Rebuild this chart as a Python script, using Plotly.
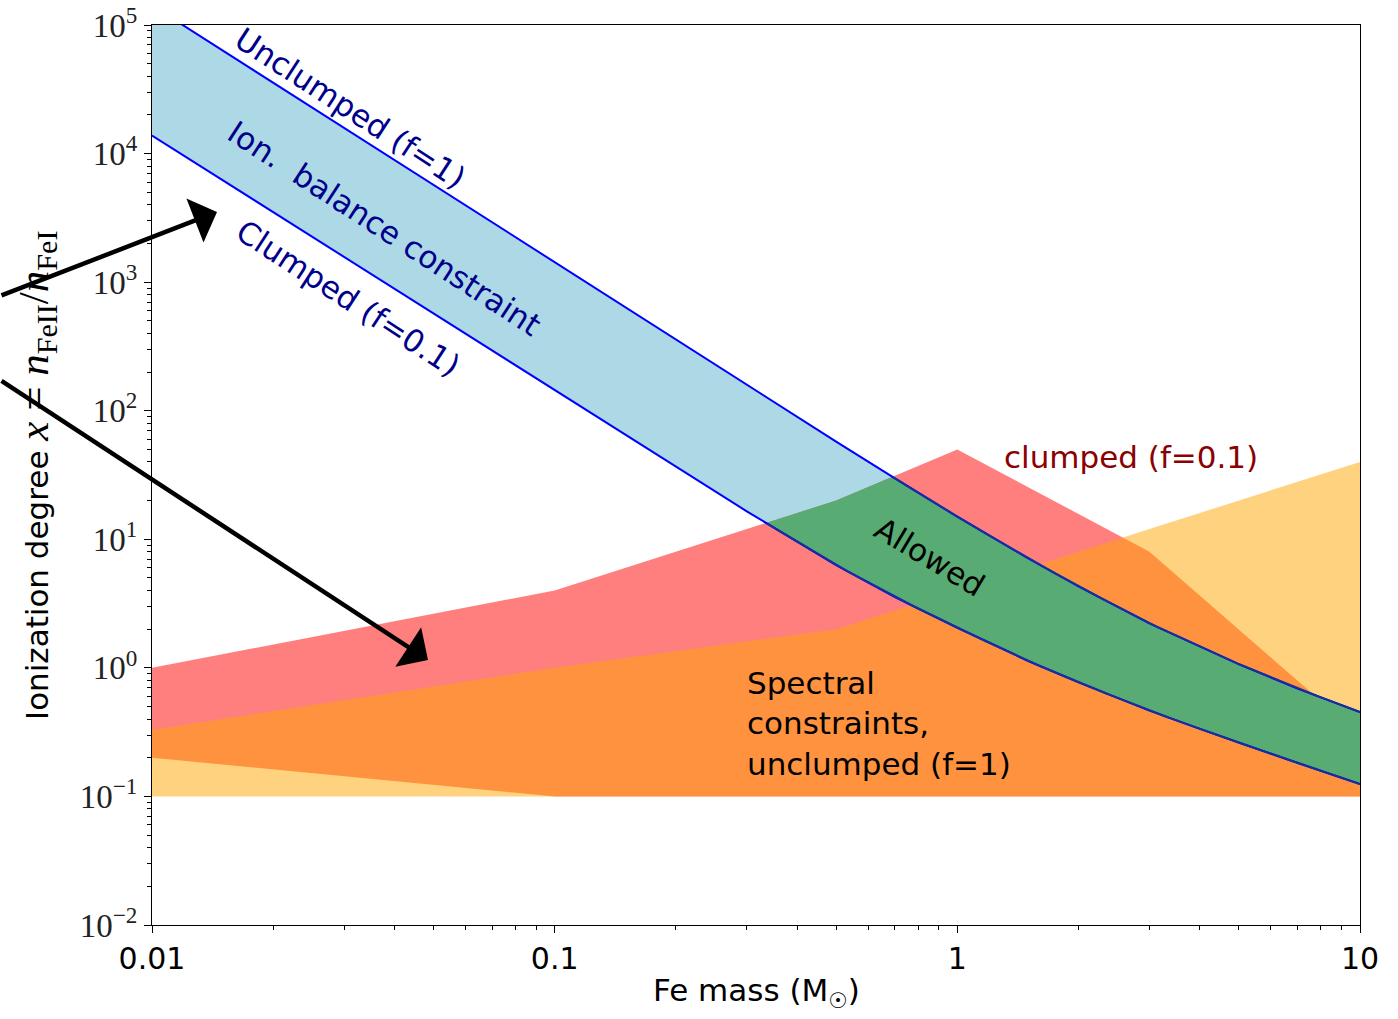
import numpy as np
import plotly.graph_objects as go

# ---------------- data ----------------
# ionisation-balance curves, x = n_FeII / n_FeI versus Fe mass (Msun)
mass = [0.01, 0.02, 0.05, 0.1, 0.2, 0.3, 0.5, 0.7, 1, 1.5, 2, 3, 4, 5, 7, 10]
x_unclumped = [1.42e5, 3.55e4, 5.7e3, 1.42e3, 356, 159, 57.5, 29.8, 15.0, 7.1,
               4.3, 2.22, 1.46, 1.07, 0.69, 0.454]
x_clumped = [1.38e4, 3.5e3, 565, 143, 36.5, 16.5, 6.3, 3.55, 2.05, 1.13,
             0.77, 0.465, 0.335, 0.262, 0.182, 0.125]

# spectral constraints
spec_mass = [0.01, 0.1, 0.5, 1, 3, 10]
clumped_upper = [1.0, 4.0, 20, 50, 8, 0.3]
clumped_lower = [0.2, 0.1, 0.1, 0.1, 0.1, 0.1]
unclumped_upper = [0.33, 1.0, 2.0, 4.0, 12, 40]
unclumped_lower = [0.1, 0.1, 0.1, 0.1, 0.1, 0.1]

xtick_vals = [0.01, 0.1, 1, 10]
xtick_text = ["0.01", "0.1", "1", "10"]
ytick_vals = [1e-2, 1e-1, 1e0, 1e1, 1e2, 1e3, 1e4, 1e5]
ytick_text = ["10<sup>\u22122</sup>", "10<sup>\u22121</sup>", "10<sup>0</sup>",
              "10<sup>1</sup>", "10<sup>2</sup>", "10<sup>3</sup>",
              "10<sup>4</sup>", "10<sup>5</sup>"]

# ---------------- figure geometry ----------------
W, H = 1398, 1019
L, R, T, B = 152, 38, 25, 94
PX0, PX1, PY0, PY1 = L, W - R, T, H - B


def paper(px, py):
    return (px - PX0) / (PX1 - PX0), (PY1 - py) / (PY1 - PY0)


SANS = "DejaVu Sans"
SERIF = "Liberation Serif"
FS = 31

fig = go.Figure()


def poly(xs_lo, ylo, xs_hi, yhi, color):
    xs = list(xs_hi) + list(xs_lo)[::-1]
    ys = list(yhi) + list(ylo)[::-1]
    fig.add_trace(go.Scatter(x=xs + [xs[0]], y=ys + [ys[0]], mode="none",
                             fill="toself", fillcolor=color,
                             hoverinfo="skip", showlegend=False))


# ion balance band
poly(mass, x_clumped, mass, x_unclumped, "#ADD8E6")
# clumped spectral constraint (red, alpha .5)
poly(spec_mass, clumped_lower, spec_mass, clumped_upper, "rgba(255,0,0,0.5)")
# unclumped spectral constraint (orange, alpha .5)
poly(spec_mass, unclumped_lower, spec_mass, unclumped_upper, "rgba(255,165,0,0.5)")

# allowed region: ion-balance band intersected with spectral constraints
g = np.linspace(-2, 1, 1201)
lm, ls = np.log10(mass), np.log10(spec_mass)
lu = np.interp(g, lm, np.log10(x_unclumped))
lc = np.interp(g, lm, np.log10(x_clumped))
spec_top = np.maximum(np.interp(g, ls, np.log10(clumped_upper)),
                      np.interp(g, ls, np.log10(unclumped_upper)))
top = np.minimum(lu, spec_top)
mask = top > lc
gx = 10 ** g[mask]
poly(gx, 10 ** lc[mask], gx, 10 ** top[mask], "#57AB73")

# blue curves
for yv in (x_unclumped, x_clumped):
    fig.add_trace(go.Scatter(x=mass, y=yv, mode="lines",
                             line=dict(color="#0000FF", width=2),
                             hoverinfo="skip", showlegend=False))
# darker parts inside the allowed region
mu = lu <= spec_top + 1e-9
mc = lc < spec_top
fig.add_trace(go.Scatter(x=10 ** g[mu], y=10 ** lu[mu], mode="lines",
                         line=dict(color="#16309A", width=2),
                         hoverinfo="skip", showlegend=False))
fig.add_trace(go.Scatter(x=10 ** g[mc], y=10 ** lc[mc], mode="lines",
                         line=dict(color="#16309A", width=2),
                         hoverinfo="skip", showlegend=False))

ann = []
# axis titles
xt, yt = paper(756, 992)
ann.append(dict(text="Fe mass (M<sub>\u2609</sub>)", x=xt, y=yt, xref="paper",
                yref="paper", showarrow=False, xanchor="center", yanchor="middle",
                font=dict(family=SANS, size=FS, color="black")))
xt, yt = paper(37, 476)
ann.append(dict(text="Ionization degree "
                     "<span style=\"font-family:'Liberation Serif';font-size:43px\">"
                     "<i>x</i>\u00a0=\u00a0<i>n</i><sub>FeII</sub>/<i>n</i><sub>FeI</sub></span>",
                x=xt, y=yt, xref="paper", yref="paper", showarrow=False,
                textangle=-90, xanchor="center", yanchor="middle",
                font=dict(family=SANS, size=FS, color="black")))

# text labels
labels = [
    ("Unclumped (f=1)", 350, 108, 33, "#00008B"),
    ("Ion.\u00a0 balance constraint", 384, 228, 33, "#00008B"),
    ("Clumped (f=0.1)", 348, 298, 33, "#00008B"),
    ("Allowed", 930, 557, 31, "black"),
    ("clumped (f=0.1)", 1131, 457, 0, "#8B0000"),
]
for txt, px, py, ang, col in labels:
    xx, yy = paper(px, py)
    ann.append(dict(text=txt, x=xx, y=yy, xref="paper", yref="paper",
                    showarrow=False, textangle=ang, xanchor="center",
                    yanchor="middle", font=dict(family=SANS, size=FS, color=col)))
xx, yy = paper(745, 723)
ann.append(dict(text="Spectral<br>constraints,<br>unclumped (f=1)", x=xx, y=yy,
                xref="paper", yref="paper", showarrow=False, xanchor="left",
                yanchor="middle", align="left",
                font=dict(family=SANS, size=FS, color="black")))

# arrows
for (tx, ty, ax, ay) in [(217, 212, -225, 84), (428, 660, -433, -280)]:
    xx, yy = paper(tx, ty)
    ann.append(dict(text="", x=xx, y=yy, xref="paper", yref="paper",
                    showarrow=True, ax=ax, ay=ay, axref="pixel", ayref="pixel",
                    arrowhead=1, arrowsize=1.75, arrowwidth=4.5, arrowcolor="black",
                    standoff=0, startstandoff=0))

axis_common = dict(type="log", showgrid=False, zeroline=False, showline=True,
                   linecolor="black", linewidth=1.2, mirror=True, ticks="outside",
                   ticklen=7, tickwidth=1.2, tickcolor="black", automargin=False,
                   ticklabeloverflow="allow",
                   minor=dict(ticks="outside", ticklen=4, tickwidth=1,
                              tickcolor="black", dtick="D1", showgrid=False))

fig.update_layout(
    width=W, height=H, margin=dict(l=L, r=R, t=T, b=B, autoexpand=False),
    plot_bgcolor="white", paper_bgcolor="white", showlegend=False,
    xaxis=dict(range=[-2, 1], tickvals=xtick_vals, ticktext=xtick_text,
               tickfont=dict(family=SANS, size=30, color="black"), **axis_common),
    yaxis=dict(range=[-2, 5], tickvals=ytick_vals, ticktext=ytick_text,
               tickfont=dict(family=SERIF, size=33, color="#222222"), **axis_common),
    annotations=ann,
)

fig.write_html("out.html", config={"displayModeBar": False},
               post_script="document.body.style.margin='0px';")
